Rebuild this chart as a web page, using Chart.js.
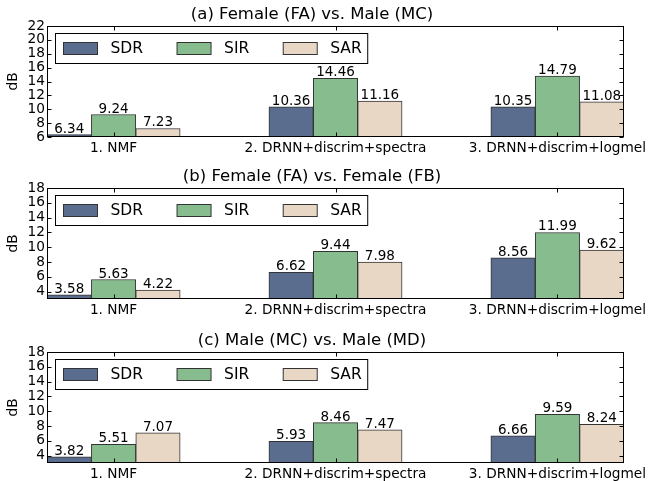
<!DOCTYPE html>
<html>
<head>
<meta charset="utf-8">
<script src="https://cdn.jsdelivr.net/npm/chart.js@4"></script>
<style>
body { margin: 0; background: #fff; width: 648px; height: 481px; overflow: hidden; position: relative; }
canvas { position: absolute; left: 0; }
</style>
</head>
<body>
<canvas id="ca" width="648" height="160" style="top:0px"></canvas>
<canvas id="cb" width="648" height="160" style="top:162px"></canvas>
<canvas id="cc" width="648" height="160" style="top:326px"></canvas>
<script>
var methods = ['1. NMF', '2. DRNN+discrim+spectra', '3. DRNN+discrim+logmel'];
var seriesNames = ['SDR', 'SIR', 'SAR'];
var seriesColors = ['#5a6d8e', '#86bc8e', '#e9d7c5'];

var titleA = '(a) Female (FA) vs. Male (MC)';
var sdrA = [6.34, 10.36, 10.35];
var sirA = [9.24, 14.46, 14.79];
var sarA = [7.23, 11.16, 11.08];
var yTicksA = [6, 8, 10, 12, 14, 16, 18, 20, 22];

var titleB = '(b) Female (FA) vs. Female (FB)';
var sdrB = [3.58, 6.62, 8.56];
var sirB = [5.63, 9.44, 11.99];
var sarB = [4.22, 7.98, 9.62];

var titleC = '(c) Male (MC) vs. Male (MD)';
var sdrC = [3.82, 5.93, 6.66];
var sirC = [5.51, 8.46, 9.59];
var sarC = [7.07, 7.47, 8.24];
var yTicksBC = [4, 6, 8, 10, 12, 14, 16, 18];

var barUnit = 0.2; // bar width in x units, groups are 1 unit apart

Chart.defaults.font.family = '"DejaVu Sans", sans-serif';
Chart.defaults.color = '#000';

// numbers above bars
var valueLabels = {
  id: 'valueLabels',
  afterDatasetsDraw: function(chart) {
    var ctx = chart.ctx;
    ctx.save();
    ctx.font = '13.5px "DejaVu Sans"';
    ctx.fillStyle = '#000';
    ctx.textAlign = 'center';
    ctx.textBaseline = 'alphabetic';
    chart.data.datasets.forEach(function(ds, i) {
      chart.getDatasetMeta(i).data.forEach(function(bar, j) {
        ctx.fillText(ds.data[j].y.toFixed(2), bar.x, bar.y - 2);
      });
    });
    ctx.restore();
  }
};

// box round the plot with inward ticks, plus the legend
var frame = {
  id: 'frame',
  afterDraw: function(chart) {
    var a = chart.chartArea, ctx = chart.ctx;
    var l = Math.round(a.left) + 0.5, r = Math.round(a.right) - 0.5;
    var t = Math.round(a.top) + 0.5, b = Math.round(a.bottom) - 0.5;
    ctx.save();
    ctx.strokeStyle = '#000';
    ctx.lineWidth = 1;
    ctx.beginPath();
    chart.scales.y.ticks.forEach(function(tk) {
      var py = Math.round(chart.scales.y.getPixelForValue(tk.value)) + 0.5;
      ctx.moveTo(l, py); ctx.lineTo(l + 4, py);
      ctx.moveTo(r, py); ctx.lineTo(r - 4, py);
    });
    chart.scales.x.ticks.forEach(function(tk) {
      var px = Math.round(chart.scales.x.getPixelForValue(tk.value)) + 0.5;
      ctx.moveTo(px, b); ctx.lineTo(px, b - 4);
      ctx.moveTo(px, t); ctx.lineTo(px, t + 4);
    });
    ctx.stroke();
    ctx.strokeRect(l, t, r - l, b - t);

    // legend
    ctx.font = '15.5px "DejaVu Sans"';
    var bx = Math.round(a.left) + 8.5, by = Math.round(a.top) + 7.5;
    var x = bx + 8;
    var items = chart.data.datasets.map(function(ds) {
      var it = { x: x, label: ds.label, color: ds.backgroundColor };
      x += 47 + ctx.measureText(ds.label).width + 34;
      return it;
    });
    var bw = x - 34 - bx + 6;
    ctx.fillStyle = '#fff';
    ctx.fillRect(bx, by, bw, 30);
    ctx.strokeRect(bx, by, bw, 30);
    items.forEach(function(it) {
      ctx.fillStyle = it.color;
      ctx.fillRect(it.x, by + 9, 34, 12);
      ctx.strokeStyle = '#333';
      ctx.strokeRect(it.x, by + 9, 34, 12);
      ctx.fillStyle = '#000';
      ctx.textBaseline = 'middle';
      ctx.fillText(it.label, it.x + 47, by + 15.5);
    });
    ctx.restore();
  }
};

function makeChart(id, title, sdr, sir, sar, yMin, yMax, yTicks) {
  var values = [sdr, sir, sar];
  var datasets = seriesNames.map(function(name, k) {
    return {
      label: name,
      data: values[k].map(function(v, g) { return { x: g + barUnit / 2 + k * barUnit, y: v }; }),
      backgroundColor: seriesColors[k],
      borderColor: '#333',
      borderWidth: 1,
      grouped: false,
      barPercentage: 1,
      categoryPercentage: 1
    };
  });
  return new Chart(document.getElementById(id), {
    type: 'bar',
    data: { datasets: datasets },
    options: {
      responsive: false,
      animation: false,
      layout: { padding: { left: 0, right: 24, top: 0, bottom: 0 } },
      plugins: {
        legend: { display: false },
        tooltip: { enabled: false },
        title: {
          display: true,
          text: title,
          color: '#000',
          font: { size: 16.5, weight: 'normal' },
          padding: { top: 5, bottom: 1.2 }
        }
      },
      scales: {
        x: {
          type: 'linear',
          offset: false,
          min: 0,
          max: methods.length - 1 + 3 * barUnit,
          afterBuildTicks: function(s) {
            s.ticks = methods.map(function(m, g) { return { value: g + 1.5 * barUnit }; });
          },
          afterFit: function(s) { s.height = 23; s.paddingLeft = 0; s.paddingRight = 0; },
          grid: { display: false, drawTicks: false, offset: false },
          border: { display: false },
          ticks: {
            autoSkip: false,
            maxRotation: 0,
            padding: 3,
            color: '#000',
            font: { size: 13.7 },
            callback: function(v, i) { return methods[i]; }
          }
        },
        y: {
          min: yMin,
          max: yMax,
          afterBuildTicks: function(s) {
            s.ticks = yTicks.map(function(v) { return { value: v }; });
          },
          afterFit: function(s) { s.width = 47; s.paddingTop = 0; s.paddingBottom = 0; },
          grid: { display: false, drawTicks: false },
          border: { display: false },
          ticks: { autoSkip: false, padding: 2, color: '#000', font: { size: 13.7 } },
          title: {
            display: true,
            text: 'dB',
            color: '#000',
            font: { size: 13.7 },
            padding: { top: 5, bottom: 0 }
          }
        }
      }
    },
    plugins: [valueLabels, frame]
  });
}

makeChart('ca', titleA, sdrA, sirA, sarA, 6, 22, yTicksA);
makeChart('cb', titleB, sdrB, sirB, sarB, 3, 18, yTicksBC);
makeChart('cc', titleC, sdrC, sirC, sarC, 3, 18, yTicksBC);
</script>
</body>
</html>
